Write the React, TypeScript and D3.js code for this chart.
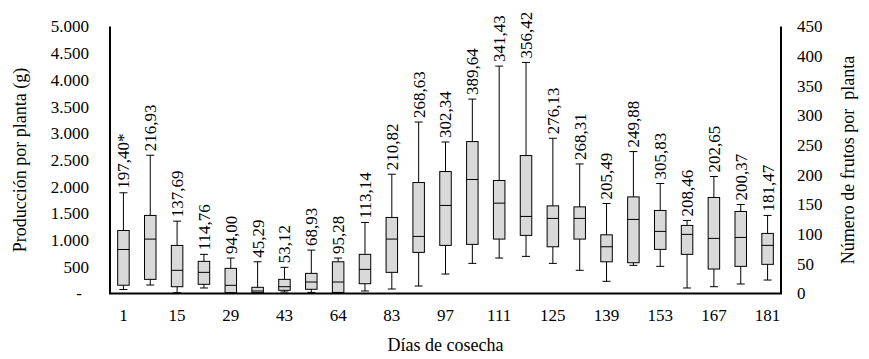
import React from "react";
import * as d3 from "d3";

// days of harvest (only every other one is printed on the axis)
const days = ["1", "8", "15", "22", "29", "36", "43", "53", "64", "74", "83", "90", "97", "104", "111", "118", "125", "132", "139", "146", "153", "160", "167", "174", "181"];
const shownDays = ["1", "15", "29", "43", "64", "83", "97", "111", "125", "139", "153", "167", "181"];

// box statistics, production per plant (g)
const mins = [75, 159, 15, 103, 5, 5, 28, 20, 5, 47, 84, 140, 364, 564, 664, 695, 564, 434, 228, 527, 508, 103, 127, 178, 252];
const q1s = [155, 265, 127, 172, 15, 15, 60, 79, 20, 183, 396, 770, 901, 920, 1019, 1088, 875, 1019, 594, 576, 826, 733, 458, 508, 546];
const medians = [824, 1019, 434, 396, 153, 47, 127, 215, 215, 452, 1019, 1069, 1649, 2135, 1692, 1443, 1406, 1406, 875, 1387, 1163, 1107, 1032, 1050, 901];
const q3s = [1180, 1462, 900, 602, 471, 116, 265, 377, 594, 733, 1424, 2078, 2284, 2845, 2116, 2583, 1641, 1622, 1099, 1809, 1555, 1275, 1798, 1536, 1125];
const maxs = [1886, 2589, 1355, 733, 664, 594, 490, 813, 664, 1331, 2234, 3211, 2837, 3641, 4258, 4327, 2907, 2426, 1686, 2658, 2060, 1368, 2191, 1667, 1462];

// mean number of fruits per plant printed above each box
const fruitLabels = ["197,40*", "216,93", "137,69", "114,76", "94,00", "45,29", "53,12", "68,93", "95,28", "113,14", "210,82", "268,63", "302,34", "389,64", "341,43", "356,42", "276,13", "268,31", "205,49", "249,88", "305,83", "208,46", "202,65", "200,37", "181,47"];

const leftTicks = [0, 500, 1000, 1500, 2000, 2500, 3000, 3500, 4000, 4500, 5000];
const rightTicks = [0, 50, 100, 150, 200, 250, 300, 350, 400, 450];

export default function App() {
  const width = 869;
  const height = 359;
  const left = 110;
  const right = 781;
  const top = 26.5;
  const bottom = 293.5;
  const font = "Liberation Serif, DejaVu Serif, serif";

  const x = d3.scaleBand().domain(days).range([left, right]).padding(0);
  const y = d3.scaleLinear().domain([0, 5000]).range([bottom, top]);
  const y2 = d3.scaleLinear().domain([0, 450]).range([bottom, top]);
  const fmt = d3.formatLocale({ decimal: ",", thousands: ".", grouping: [3], currency: ["", ""] }).format(",");

  const boxW = 11.5;
  const capW = 8;

  return (
    <svg width={width} height={height} style={{ position: "absolute", left: 0, top: 0, background: "#fff", fontFamily: font }}>
      {days.map((d, i) => {
        const cx = x(d)! + x.bandwidth() / 2;
        return (
          <g key={d}>
            <line x1={cx} x2={cx} y1={y(maxs[i])} y2={y(q3s[i])} stroke="#000" />
            <line x1={cx} x2={cx} y1={y(q1s[i])} y2={y(mins[i])} stroke="#000" />
            <line x1={cx - capW / 2} x2={cx + capW / 2} y1={y(maxs[i])} y2={y(maxs[i])} stroke="#000" />
            <line x1={cx - capW / 2} x2={cx + capW / 2} y1={y(mins[i])} y2={y(mins[i])} stroke="#000" />
            <rect x={cx - boxW / 2} width={boxW} y={y(q3s[i])} height={y(q1s[i]) - y(q3s[i])} fill="#d9d9d9" stroke="#000" />
            <line x1={cx - boxW / 2} x2={cx + boxW / 2} y1={y(medians[i])} y2={y(medians[i])} stroke="#000" />
            <text
              transform={`translate(${cx},${y(maxs[i]) - 4}) rotate(-90)`}
              dy="0.35em"
              fontSize={17}
              fill="#000"
            >
              {fruitLabels[i]}
            </text>
          </g>
        );
      })}

      {/* axes */}
      <line x1={left} x2={left} y1={top} y2={bottom} stroke="#000" strokeWidth={2} />
      <line x1={right} x2={right} y1={top} y2={bottom} stroke="#000" strokeWidth={2} />
      <line x1={left - 1} x2={right + 1} y1={bottom} y2={bottom} stroke="#000" strokeWidth={2} />

      {leftTicks.map((t) =>
        t === 0 ? (
          <text key={t} x={79} y={y(t)} dy="0.35em" textAnchor="middle" fontSize={17}>-</text>
        ) : (
          <text key={t} x={89} y={y(t)} dy="0.35em" textAnchor="end" fontSize={17}>{fmt(t)}</text>
        )
      )}
      {rightTicks.map((t) => (
        <text key={t} x={797} y={y2(t)} dy="0.35em" textAnchor="start" fontSize={17}>{t}</text>
      ))}
      {shownDays.map((d) => (
        <text key={d} x={x(d)! + x.bandwidth() / 2} y={315} dy="0.35em" textAnchor="middle" fontSize={17}>{d}</text>
      ))}

      <text x={(left + right) / 2} y={345} dy="0.35em" textAnchor="middle" fontSize={18}>Días de cosecha</text>
      <text transform={`translate(20,${(top + bottom) / 2}) rotate(-90)`} dy="0.35em" textAnchor="middle" fontSize={18}>Producción por planta (g)</text>
      <text transform={`translate(848,${(top + bottom) / 2}) rotate(-90)`} dy="0.35em" textAnchor="middle" fontSize={18} style={{ whiteSpace: "pre" }}>Número de frutos por  planta</text>
    </svg>
  );
}
